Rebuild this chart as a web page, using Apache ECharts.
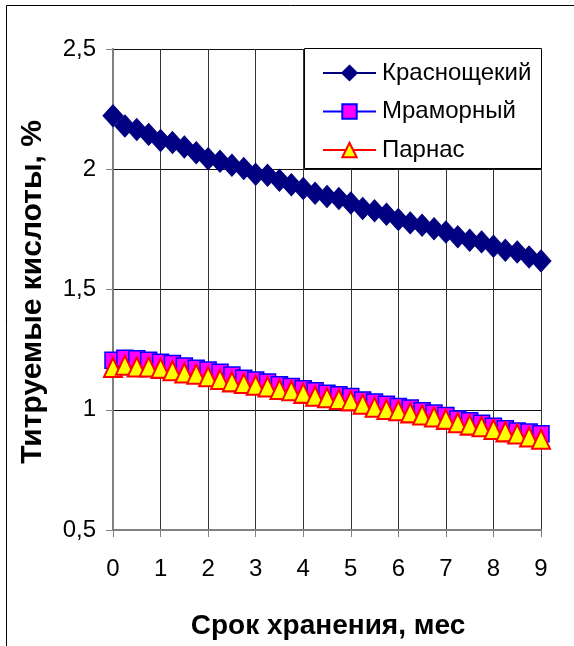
<!DOCTYPE html>
<html>
<head>
<meta charset="utf-8">
<script src="https://cdn.jsdelivr.net/npm/echarts@6/dist/echarts.min.js"></script>
<style>
html,body{margin:0;padding:0;background:#fff;}
#chart{width:574px;height:646px;}
</style>
</head>
<body>
<div id="chart"></div>
<script>
// Storage time, months
const months = [0, 0.25, 0.5, 0.75, 1, 1.25, 1.5, 1.75, 2, 2.25, 2.5, 2.75, 3, 3.25, 3.5, 3.75,
  4, 4.25, 4.5, 4.75, 5, 5.25, 5.5, 5.75, 6, 6.25, 6.5, 6.75, 7, 7.25, 7.5, 7.75, 8, 8.25, 8.5, 8.75, 9];
const seriesNames = ['Краснощекий', 'Мраморный', 'Парнас'];
const krasnoshchekiy = [2.222, 2.180, 2.165, 2.145, 2.120, 2.111, 2.093, 2.069, 2.044, 2.033, 2.017, 2.003,
  1.979, 1.975, 1.954, 1.936, 1.920, 1.900, 1.887, 1.878, 1.860, 1.837, 1.827, 1.813, 1.791, 1.777,
  1.767, 1.753, 1.739, 1.719, 1.705, 1.698, 1.680, 1.663, 1.656, 1.635, 1.619];
const mramorniy = [1.206, 1.214, 1.212, 1.206, 1.198, 1.192, 1.182, 1.173, 1.165, 1.156, 1.145, 1.131,
  1.124, 1.115, 1.104, 1.097, 1.087, 1.079, 1.069, 1.062, 1.055, 1.041, 1.032, 1.023, 1.014, 1.007,
  0.996, 0.986, 0.976, 0.962, 0.954, 0.944, 0.931, 0.921, 0.912, 0.907, 0.900];
const parnas = [1.176, 1.185, 1.178, 1.178, 1.172, 1.162, 1.153, 1.148, 1.137, 1.126, 1.116, 1.109,
  1.102, 1.095, 1.084, 1.079, 1.068, 1.056, 1.050, 1.043, 1.037, 1.023, 1.010, 1.001, 0.996, 0.987,
  0.978, 0.970, 0.960, 0.946, 0.936, 0.929, 0.918, 0.908, 0.899, 0.887, 0.877];
const xTicks = ['0', '1', '2', '3', '4', '5', '6', '7', '8', '9'];
const yTicks = ['0,5', '1', '1,5', '2', '2,5'];
const xTitle = 'Срок хранения, мес';
const yTitle = 'Титруемые кислоты, %';

const FONT = "'Liberation Sans', Arial, sans-serif";
const pairs = arr => months.map((m, i) => [m, arr[i]]);

const chart = echarts.init(document.getElementById('chart'), null, {renderer: 'canvas'});
chart.setOption({
  animation: false,
  backgroundColor: '#fff',
  grid: {left: 113, top: 49, width: 428, height: 481, containLabel: false},
  xAxis: {
    type: 'value', min: 0, max: 9, interval: 1,
    axisLine: {show: true, lineStyle: {color: '#808080', width: 2}},
    axisTick: {show: true, inside: false, length: 7, lineStyle: {color: '#808080', width: 1}},
    axisLabel: {color: '#000', fontSize: 24, fontFamily: FONT, margin: 27,
      formatter: v => xTicks[Math.round(v)]},
    splitLine: {show: true, lineStyle: {color: '#333', width: 1}}
  },
  yAxis: {
    type: 'value', min: 0.5, max: 2.5, interval: 0.5,
    axisLine: {show: true, lineStyle: {color: '#808080', width: 2}},
    axisTick: {show: true, inside: false, length: 7, lineStyle: {color: '#808080', width: 1}},
    axisLabel: {color: '#000', fontSize: 24, fontFamily: FONT, margin: 17,
      formatter: v => yTicks[Math.round((v - 0.5) / 0.5)]},
    splitLine: {show: true, lineStyle: {color: '#111', width: 1}}
  },
  legend: {
    orient: 'vertical', left: 322, top: 61, itemWidth: 53, itemHeight: 18, itemGap: 14.5,
    padding: 0, z: 10,
    textStyle: {fontSize: 24, fontFamily: FONT, color: '#000', padding: [0, 0, 0, 1]},
    data: seriesNames
  },
  graphic: [
    {type: 'rect', z: 0, silent: true, shape: {x: 6.5, y: 5.5, width: 700, height: 700},
      style: {fill: 'none', stroke: '#000', lineWidth: 1}},
    {type: 'rect', z: 5, silent: true, shape: {x: 304.5, y: 48.5, width: 237, height: 120},
      style: {fill: '#fff', stroke: '#000', lineWidth: 1}},
    {type: 'text', z: 5, x: 328, y: 626, silent: true,
      style: {text: xTitle, font: "bold 28px " + FONT, fill: '#000', textAlign: 'center', textVerticalAlign: 'middle'}},
    {type: 'text', z: 5, x: 33, y: 292, rotation: Math.PI / 2, silent: true,
      style: {text: yTitle, font: "bold 30px " + FONT, fill: '#000', textAlign: 'center', textVerticalAlign: 'middle'}}
  ],
  series: [
    {name: seriesNames[0], type: 'line', data: pairs(krasnoshchekiy), clip: false,
      symbol: 'diamond', symbolSize: [20, 22],
      lineStyle: {color: '#000080', width: 2},
      itemStyle: {color: '#000080', borderColor: '#000080', borderWidth: 1}},
    {name: seriesNames[1], type: 'line', data: pairs(mramorniy), clip: false,
      symbol: 'rect', symbolSize: 16,
      lineStyle: {color: '#0000FF', width: 2},
      itemStyle: {color: '#FF00FF', borderColor: '#0000FF', borderWidth: 1.5}},
    {name: seriesNames[2], type: 'line', data: pairs(parnas), clip: false,
      symbol: 'triangle', symbolSize: [18, 19],
      lineStyle: {color: '#FF0000', width: 2},
      itemStyle: {color: '#FFFF00', borderColor: '#FF0000', borderWidth: 2}}
  ]
});
</script>
</body>
</html>
